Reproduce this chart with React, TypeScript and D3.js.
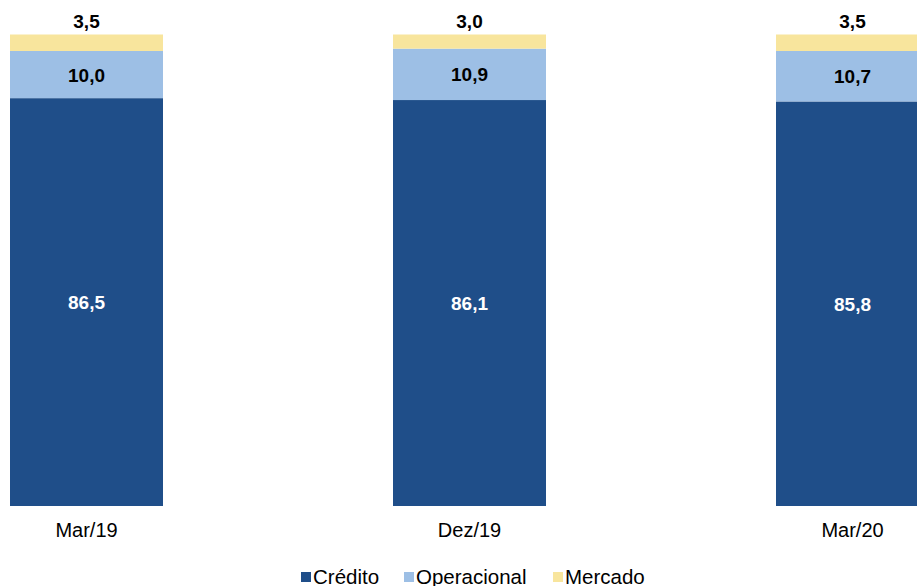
import React from "react";
import * as d3 from "d3";

const categories = ["Mar/19", "Dez/19", "Mar/20"];
const credito = [86.5, 86.1, 85.8];
const operacional = [10.0, 10.9, 10.7];
const mercado = [3.5, 3.0, 3.5];
const seriesNames = ["Crédito", "Operacional", "Mercado"];
const colors = ["#1F4E89", "#9DBFE5", "#F8E59D"];

const W = 917;
const H = 586;
const FONT = "'Liberation Sans', Arial, sans-serif";

export default function App() {
  const x = d3
    .scaleBand<string>()
    .domain(categories)
    .range([10, 929])
    .paddingInner(230 / 383)
    .paddingOuter(0);
  const y = d3.scaleLinear().domain([0, 100]).range([506, 34.5]);

  const rows = categories.map((c, i) => ({
    cat: c,
    Crédito: credito[i],
    Operacional: operacional[i],
    Mercado: mercado[i],
  }));
  const stack = d3.stack<any>().keys(seriesNames)(rows);
  const fmt = (v: number) => v.toFixed(1).replace(".", ",");

  const legendX = [301, 404, 553];

  return (
    <svg width={W} height={H} style={{ position: "absolute", left: 0, top: 0, display: "block" }}>
      <rect x={0} y={0} width={W} height={H} fill="#fff" />
      {stack.map((s, si) => (
        <g key={s.key}>
          {s.map((d, i) => (
            <rect
              key={i}
              x={x(categories[i])!}
              y={y(d[1])}
              width={x.bandwidth()}
              height={y(d[0]) - y(d[1])}
              fill={colors[si]}
            />
          ))}
        </g>
      ))}
      {stack.map((s, si) =>
        s.map((d, i) => {
          const cx = x(categories[i])! + x.bandwidth() / 2;
          let cy: number;
          if (si === 2) cy = y(d[1]) - 7;
          else cy = (y(d[0]) + y(d[1])) / 2 + 7;
          return (
            <text
              key={`${si}-${i}`}
              x={cx}
              y={cy}
              textAnchor="middle"
              fontFamily={FONT}
              fontWeight="bold"
              fontSize={19}
              fill={si === 0 ? "#fff" : "#000"}
            >
              {fmt(d[1] - d[0])}
            </text>
          );
        })
      )}
      {categories.map((c) => (
        <text
          key={c}
          x={x(c)! + x.bandwidth() / 2}
          y={537}
          textAnchor="middle"
          fontFamily={FONT}
          fontSize={20}
          fill="#000"
        >
          {c}
        </text>
      ))}
      {seriesNames.map((n, i) => (
        <g key={n}>
          <rect x={legendX[i]} y={572} width={10} height={10} fill={colors[i]} />
          <text x={legendX[i] + 12} y={584} fontFamily={FONT} fontSize={20.5} fill="#000">
            {n}
          </text>
        </g>
      ))}
    </svg>
  );
}
